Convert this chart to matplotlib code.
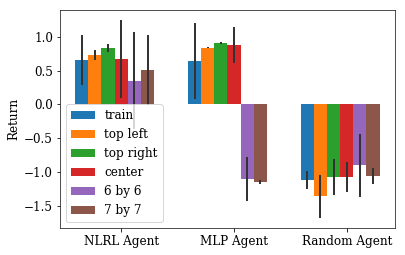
import numpy as np
import matplotlib
matplotlib.use('Agg')
import matplotlib.pyplot as plt

plt.rcParams['font.family'] = 'DejaVu Serif'
plt.rcParams['font.size'] = 12

agents = ['NLRL Agent', 'MLP Agent', 'Random Agent']
variants = ['train', 'top left', 'top right', 'center', '6 by 6', '7 by 7']

# mean return per variant, one value per agent
means = {
    'train':     [0.66, 0.64, -1.12],
    'top left':  [0.73, 0.84, -1.36],
    'top right': [0.84, 0.91, -1.07],
    'center':    [0.67, 0.88, -1.07],
    '6 by 6':    [0.35, -1.10, -0.90],
    '7 by 7':    [0.51, -1.15, -1.06],
}
# error bar half-lengths
errs = {
    'train':     [0.37, 0.56, 0.13],
    'top left':  [0.07, 0.01, 0.32],
    'top right': [0.06, 0.01, 0.265],
    'center':    [0.58, 0.27, 0.225],
    '6 by 6':    [0.72, 0.33, 0.47],
    '7 by 7':    [0.52, 0.03, 0.12],
}

x = np.arange(len(agents))
w = 0.7 / len(variants)

fig, ax = plt.subplots(figsize=(405 / 72, 255 / 72), dpi=72)
fig.subplots_adjust(left=0.148, right=0.975, top=0.961, bottom=0.106)
for j, v in enumerate(variants):
    ax.bar(x + (j - 3) * w, means[v], w, yerr=errs[v], label=v,
           ecolor='0.2', error_kw=dict(elinewidth=2, capsize=0))

ax.set_xticks(x)
ax.set_xticklabels(agents)
ax.set_ylabel('Return')
for s in ax.spines.values():
    s.set_color('0.15')
ax.legend(loc='lower left')

plt.savefig('out.png', dpi=72)
